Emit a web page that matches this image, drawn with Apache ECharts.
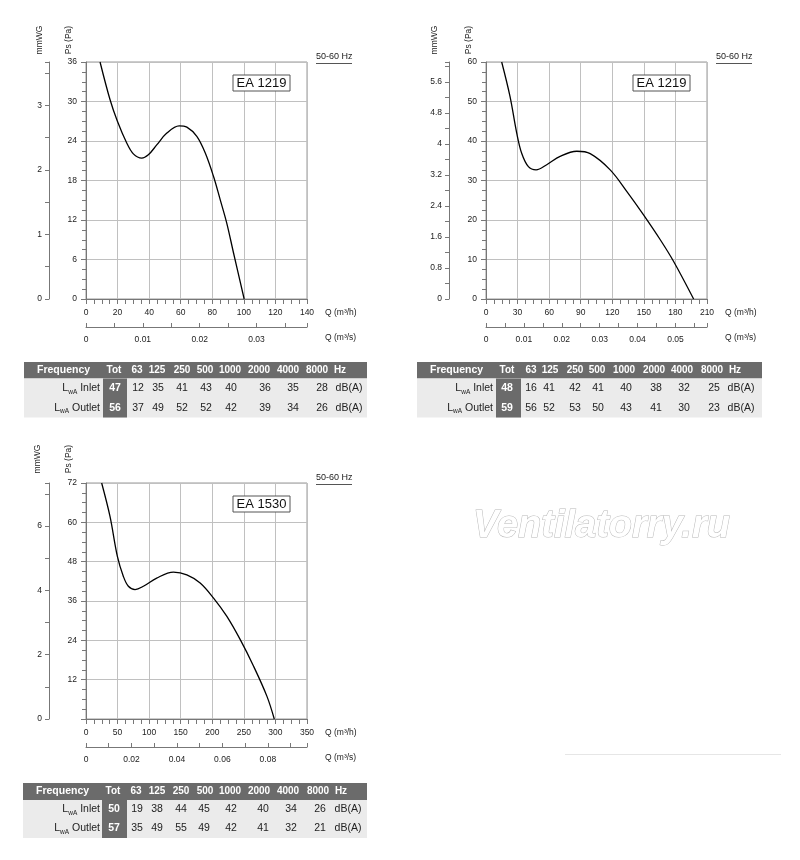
<!DOCTYPE html>
<html>
<head>
<meta charset="utf-8">
<title>EA fan curves</title>
<script src="https://cdn.jsdelivr.net/npm/echarts@6/dist/echarts.min.js"></script>
<style>
html,body{margin:0;padding:0;background:#ffffff;}
#chart{width:800px;height:860px;}
</style>
</head>
<body>
<div id="chart"></div>
<script>
// ---------------- data ----------------
const PA_PER_MMWG = 9.80665;
const modelNames = ['EA 1219', 'EA 1219', 'EA 1530'];
const supplyLabel = '50-60 Hz';

// static pressure curves: Q in m3/h, Ps in Pa
const flowA  = [8.9, 15.2, 19.9, 25.8, 30, 35.3, 39.5, 44.8, 51.2, 59, 63.9, 70.2, 75.5, 80.8, 85, 89.2, 93.5, 100.2];
const pressA = [36, 30.3, 27, 23.7, 22.05, 21.4, 21.9, 23.4, 25.2, 26.3, 26.1, 24.7, 22.2, 18.6, 15.1, 11.5, 6.95, 0];

const flowB  = [14.9, 22.8, 29.2, 33.9, 40.3, 47.6, 57.7, 70.4, 86.3, 99, 118, 133.9, 149.7, 165.6, 178.3, 197.3];
const pressB = [60, 51.3, 42, 36.9, 33.5, 32.7, 34, 36.1, 37.4, 36.8, 32.7, 27.2, 21.3, 15, 9.5, 0];

const flowC  = [24.8, 38, 49.7, 59.2, 67.1, 77.7, 90.9, 112, 138.5, 159.7, 180.8, 202, 223.1, 244.3, 265.4, 286.6, 298.2];
const pressC = [72, 61.8, 49.6, 43.5, 40.5, 39.5, 40.5, 43, 44.8, 44, 41.5, 36.9, 31.3, 24.2, 16.1, 6.9, 0];

// sound power tables
const bandHeaders = ['Tot', '63', '125', '250', '500', '1000', '2000', '4000', '8000', 'Hz'];
const rowNames = ['Inlet', 'Outlet'];
const unitLabel = 'dB(A)';
const inletA  = [47, 12, 35, 41, 43, 40, 36, 35, 28];
const outletA = [56, 37, 49, 52, 52, 42, 39, 34, 26];
const inletB  = [48, 16, 41, 42, 41, 40, 38, 32, 25];
const outletB = [59, 56, 52, 53, 50, 43, 41, 30, 23];
const inletC  = [50, 19, 38, 44, 45, 42, 40, 34, 26];
const outletC = [57, 35, 49, 55, 49, 42, 41, 32, 21];

const watermarkText = 'Ventilatorry.ru';

// ---------------- layout ----------------
const FONT = '"Liberation Sans", Arial, sans-serif';
const panels = [
  { flow: flowA, press: pressA, left: 86,  top: 62,  w: 221, h: 237, qMax: 140, qStep: 20, pMax: 36, pStep: 6,
    sStep: 0.005, sLab: 0.01, sDec: 3, mStep: 0.5, mLab: 1, mDec: 1, hideP0: false, mmX: 40, psX: 69, nameY: 40 },
  { flow: flowB, press: pressB, left: 486, top: 62,  w: 221, h: 237, qMax: 210, qStep: 30, pMax: 60, pStep: 10,
    sStep: 0.005, sLab: 0.01, sDec: 3, mStep: 0.4, mLab: 0.8, mDec: 1, hideP0: false, mmX: 435, psX: 469, nameY: 40 },
  { flow: flowC, press: pressC, left: 86,  top: 483, w: 221, h: 236, qMax: 350, qStep: 50, pMax: 72, pStep: 12,
    sStep: 0.01, sLab: 0.02, sDec: 3, mStep: 1, mLab: 2, mDec: 1, hideP0: true, mmX: 38, psX: 69, nameY: 459 }
];

const tables = [
  { inlet: inletA, outlet: outletA, left: 24, top: 362, width: 343, hh: 16.5, rh: 19.5, totL: 103, totW: 24, freqX: 37, labR: 100,
    hdrX: [114, 137, 157, 182, 205, 230, 259, 288, 317, 340], valX: [115, 138, 158, 182, 206, 231, 265, 293, 322, 349] },
  { inlet: inletB, outlet: outletB, left: 417, top: 362, width: 345, hh: 16.5, rh: 19.5, totL: 496, totW: 25, freqX: 430, labR: 493,
    hdrX: [507, 531, 550, 575, 597, 624, 654, 682, 712, 735], valX: [507, 531, 549, 575, 598, 626, 656, 684, 714, 741] },
  { inlet: inletC, outlet: outletC, left: 23, top: 783, width: 344, hh: 17, rh: 19, totL: 102, totW: 25, freqX: 36, labR: 100,
    hdrX: [113, 136, 157, 181, 205, 230, 259, 288, 318, 341], valX: [114, 137, 157, 181, 204, 231, 263, 291, 320, 348] }
];

// ---------------- build ----------------
const AX = '#777';
const LBL = '#222';
const GRIDC = '#c0c0c0';
const tickFont = { fontFamily: FONT, fontSize: 8.5, color: LBL };

function stepLabel(step, dec) {
  return function (v) {
    const k = v / step;
    return Math.abs(k - Math.round(k)) < 1e-6 ? String(+v.toFixed(dec)) : '';
  };
}

const grid = [], xAxis = [], yAxis = [], series = [], graphic = [];

panels.forEach(function (p, i) {
  grid.push({ left: p.left, top: p.top, width: p.w, height: p.h, show: true, borderColor: '#999', borderWidth: 1,
              backgroundColor: 'transparent', containLabel: false });
  // Q m3/h
  xAxis.push({
    gridIndex: i, type: 'value', min: 0, max: p.qMax, interval: p.qStep, position: 'bottom',
    axisLine: { show: true, onZero: false, lineStyle: { color: AX } },
    axisTick: { show: true, length: 5, lineStyle: { color: AX } },
    minorTick: { show: true, splitNumber: 4, length: 5, lineStyle: { color: AX } },
    axisLabel: Object.assign({ margin: 9 }, tickFont),
    splitLine: { show: true, lineStyle: { color: GRIDC, width: 1 } }
  });
  // Q m3/s
  xAxis.push({
    gridIndex: i, type: 'value', min: 0, max: p.qMax / 3600, interval: p.sStep, position: 'bottom', offset: 28,
    axisLine: { show: true, onZero: false, lineStyle: { color: AX } },
    axisTick: { show: true, inside: true, length: 4, lineStyle: { color: AX } },
    axisLabel: Object.assign({ margin: 8, formatter: stepLabel(p.sLab, p.sDec) }, tickFont),
    splitLine: { show: false }
  });
  // Ps Pa
  yAxis.push({
    gridIndex: i, type: 'value', min: 0, max: p.pMax, interval: p.pStep, position: 'left',
    axisLine: { show: true, onZero: false, lineStyle: { color: AX } },
    axisTick: { show: true, length: 5, lineStyle: { color: AX } },
    minorTick: { show: true, splitNumber: 4, length: 4, lineStyle: { color: AX } },
    axisLabel: Object.assign({ margin: 9, formatter: function (v) { return (p.hideP0 && v === 0) ? '' : String(v); } }, tickFont),
    splitLine: { show: true, lineStyle: { color: GRIDC, width: 1 } }
  });
  // mmWG
  yAxis.push({
    gridIndex: i, type: 'value', min: 0, max: p.pMax / PA_PER_MMWG, interval: p.mStep, position: 'left', offset: 37,
    axisLine: { show: true, onZero: false, lineStyle: { color: AX } },
    axisTick: { show: true, length: 4, lineStyle: { color: AX } },
    axisLabel: Object.assign({ margin: 7, formatter: stepLabel(p.mLab, p.mDec) }, tickFont),
    splitLine: { show: false }
  });

  series.push({
    type: 'line', xAxisIndex: 2 * i, yAxisIndex: 2 * i,
    data: p.flow.map(function (q, k) { return [q, p.press[k]]; }),
    smooth: 0.35, showSymbol: false, clip: true, silent: true,
    lineStyle: { color: '#000', width: 1.3 }, z: 5
  });

  const bottom = p.top + p.h;
  const right = p.left + p.w;
  const txt = function (x, y, text, extra) {
    return Object.assign({ type: 'text', x: x, y: y, silent: true,
      style: Object.assign({ text: text, fill: LBL, font: '8.5px ' + FONT, align: 'left', verticalAlign: 'middle' }, extra || {}) });
  };
  graphic.push(Object.assign(txt(p.mmX, p.nameY, 'mmWG', { align: 'center' }), { rotation: Math.PI / 2 }));
  graphic.push(Object.assign(txt(p.psX, p.nameY, 'Ps (Pa)', { align: 'center' }), { rotation: Math.PI / 2 }));
  graphic.push(txt(right + 18, bottom + 14, 'Q (m³/h)'));
  graphic.push(txt(right + 18, bottom + 39, 'Q (m³/s)'));
  graphic.push(txt(right + 9, p.top - 5, supplyLabel, { font: '9px ' + FONT }));
  graphic.push({ type: 'line', silent: true, shape: { x1: right + 9, y1: p.top + 1.5, x2: right + 45, y2: p.top + 1.5 },
                 style: { stroke: '#555', lineWidth: 1 } });
  graphic.push({ type: 'rect', silent: true, shape: { x: p.left + 147, y: p.top + 13, width: 57, height: 16 },
                 style: { fill: '#fff', stroke: '#555', lineWidth: 1 }, z: 10 });
  graphic.push(Object.assign(txt(p.left + 175.5, p.top + 21.5, modelNames[i],
                 { align: 'center', fill: '#111', font: '13px ' + FONT }), { z: 11 }));
});

// tables
tables.forEach(function (t) {
  const rowsTop = t.top + t.hh;
  graphic.push({ type: 'rect', silent: true, shape: { x: t.left, y: t.top, width: t.width, height: t.hh }, style: { fill: '#6b6b6b' } });
  graphic.push({ type: 'rect', silent: true, shape: { x: t.left, y: rowsTop, width: t.width, height: t.rh * 2 }, style: { fill: '#ebebeb' } });
  graphic.push({ type: 'rect', silent: true, shape: { x: t.totL, y: rowsTop, width: t.totW, height: t.rh * 2 }, style: { fill: '#6b6b6b' } });
  const hy = t.top + t.hh / 2;
  graphic.push({ type: 'text', silent: true, x: t.freqX, y: hy,
    style: { text: 'Frequency', fill: '#fff', font: 'bold 10.5px ' + FONT, align: 'left', verticalAlign: 'middle' } });
  bandHeaders.forEach(function (h, k) {
    graphic.push({ type: 'text', silent: true, x: t.hdrX[k], y: hy,
      style: { text: h, fill: '#fff', font: 'bold 10px ' + FONT, align: 'center', verticalAlign: 'middle' } });
  });
  [t.inlet, t.outlet].forEach(function (vals, r) {
    const ry = rowsTop + t.rh * (r + 0.5);
    graphic.push({ type: 'text', silent: true, x: t.labR, y: ry,
      style: { text: '{b|L}{s|wA}{b| ' + rowNames[r] + '}', align: 'right', verticalAlign: 'middle',
        rich: { b: { fontFamily: FONT, fontSize: 10.5, fill: '#222', color: '#222', lineHeight: 12 },
                s: { fontFamily: FONT, fontSize: 6.5, fill: '#222', color: '#222', lineHeight: 12, padding: [7, 0, 0, 0] } } } });
    vals.forEach(function (v, k) {
      graphic.push({ type: 'text', silent: true, x: t.valX[k], y: ry,
        style: { text: String(v), fill: k === 0 ? '#fff' : '#222', font: (k === 0 ? 'bold ' : '') + '10.5px ' + FONT,
                 align: 'center', verticalAlign: 'middle' } });
    });
    graphic.push({ type: 'text', silent: true, x: t.valX[9], y: ry,
      style: { text: unitLabel, fill: '#222', font: '10.5px ' + FONT, align: 'center', verticalAlign: 'middle' } });
  });
});

// watermark and rule
graphic.push({ type: 'text', silent: true, x: 473, y: 527,
  style: { text: watermarkText, fill: '#ffffff', stroke: '#b8b8b8', lineWidth: 1,
           font: 'italic bold 38px ' + FONT, align: 'left', verticalAlign: 'middle' } });
graphic.push({ type: 'line', silent: true, shape: { x1: 565, y1: 754.5, x2: 781, y2: 754.5 },
  style: { stroke: '#e6e6e6', lineWidth: 1 } });

const chart = echarts.init(document.getElementById('chart'), null, { renderer: 'canvas' });
chart.setOption({
  animation: false,
  backgroundColor: '#ffffff',
  grid: grid, xAxis: xAxis, yAxis: yAxis, series: series, graphic: graphic
});
</script>
</body>
</html>
